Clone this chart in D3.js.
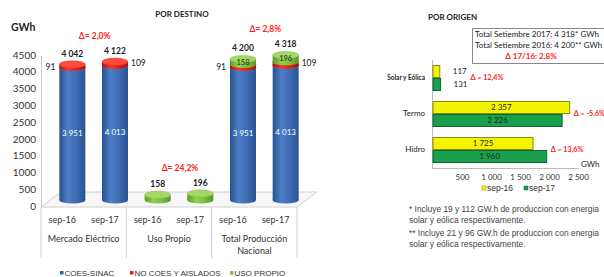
<!DOCTYPE html>
<html>
<head>
<meta charset="utf-8">
<script src="https://cdn.jsdelivr.net/npm/d3@7"></script>
<style>
  body { margin: 0; background: #fff; }
  svg { display: block; }
</style>
</head>
<body>
<svg id="chart" width="604" height="277"></svg>
<script>
// ---- data: POR DESTINO ----
const destinos = ["Mercado Eléctrico", "Uso Propio", "Total Producción Nacional"];
const periodos = ["sep-16", "sep-17"];
const coesSinac = [[3951, 4013], [0, 0], [3951, 4013]];
const noCoes = [[91, 109], [0, 0], [91, 109]];
const usoPropio = [[0, 0], [158, 196], [158, 196]];
const deltasDestino = ["Δ= 2,0%", "Δ= 24,2%", "Δ= 2,8%"];
const yTicks = [0, 500, 1000, 1500, 2000, 2500, 3000, 3500, 4000, 4500];

// ---- data: POR ORIGEN ----
const origenes = ["Solar y Eólica", "Termo", "Hidro"];
const origenSep16 = [117, 2357, 1725];
const origenSep17 = [131, 2226, 1960];
const deltasOrigen = ["Δ = 12,4%", "Δ = -5,6%", "Δ = 13,6%"];
const xTicksOrigen = [500, 1000, 1500, 2000, 2500];

const svg = d3.select("#chart");
const font = "Lato, 'Open Sans', sans-serif";
const arial = "'Liberation Sans', Arial, sans-serif";
const fmt = v => d3.format(",")(v).replace(/,/g, " ");

// gradients for the cylinders
const defs = svg.append("defs");
function grad(id, stops) {
  const g = defs.append("linearGradient").attr("id", id)
    .attr("x1", 0).attr("x2", 1).attr("y1", 0).attr("y2", 0);
  stops.forEach((c, i) => g.append("stop")
    .attr("offset", i / (stops.length - 1)).attr("stop-color", c));
}
grad("gBlue", ["#2a5290", "#4c7fc6", "#3d6cb3", "#2a5290"]);
grad("gRed", ["#b3120e", "#f03a30", "#dc2018", "#a8100c"]);
grad("gGreen", ["#5a9a28", "#93d052", "#7bbd3c", "#57962a"]);

// ================= LEFT: POR DESTINO =================
const y = d3.scaleLinear().domain([0, 4500]).range([206, 55]);
const depth = 6;                        // 3D shift of bars above the floor line
const yb = v => y(v) - depth;
const x0 = d3.scaleBand().domain(destinos).range([41, 297]);
const x1 = d3.scalePoint().domain(periodos).range([0, x0.bandwidth()]).padding(0.5);
const barShift = 10, rx = 13, ry = 3.6;

svg.append("text").attr("x", 182).attr("y", 17).attr("text-anchor", "middle")
  .attr("font-family", font).attr("font-weight", "bold").attr("font-size", 8)
  .attr("fill", "#222").text("POR  DESTINO");
svg.append("text").attr("x", 11).attr("y", 31)
  .attr("font-family", font).attr("font-weight", "bold").attr("font-size", 10.5)
  .attr("fill", "#222").text("GWh");

// floor
svg.append("polygon")
  .attr("points", [[41, 207], [297, 207], [317, 192], [61, 192]].join(" "))
  .attr("fill", "#f7f7f7").attr("stroke", "#cfcfcf").attr("stroke-width", 1);

// y axis
const yAxis = svg.append("g").attr("transform", "translate(41,0)")
  .call(d3.axisLeft(y).tickValues(yTicks).tickFormat(d3.format("d")).tickSize(0).tickPadding(5));
yAxis.select(".domain").attr("stroke", "#c8c8c8");
yAxis.selectAll("text").attr("font-family", font).attr("font-size", 10).attr("fill", "#333");

// category separators and labels
const seps = x0.domain().map(d => x0(d)).concat([x0.range()[1]]);
svg.selectAll(".sep").data(seps).enter().append("line")
  .attr("x1", d => d).attr("x2", d => d).attr("y1", 207).attr("y2", 258)
  .attr("stroke", "#cfcfcf");

destinos.forEach((cat, i) => {
  const g = svg.append("g");
  periodos.forEach(p => {
    g.append("text").attr("x", x0(cat) + x1(p)).attr("y", 223)
      .attr("text-anchor", "middle").attr("font-family", font).attr("font-size", 9)
      .attr("fill", "#333").text(p);
  });
  const cx = x0(cat) + x0.bandwidth() / 2;
  const lines = cat === "Total Producción Nacional" ? ["Total Producción", "Nacional"] : [cat];
  lines.forEach((t, k) => g.append("text").attr("x", cx).attr("y", 242 + k * 12)
    .attr("text-anchor", "middle").attr("font-family", font).attr("font-size", 9)
    .attr("fill", "#333").text(t));
});

// cylinders
const series = [
  { vals: coesSinac, fill: "url(#gBlue)", top: "#5d8fd6" },
  { vals: noCoes, fill: "url(#gRed)", top: "#ff4a3c" },
  { vals: usoPropio, fill: "url(#gGreen)", top: "#a2d866" }
];
destinos.forEach((cat, i) => {
  periodos.forEach((p, j) => {
    const cx = x0(cat) + x1(p) + barShift;
    let base = 0;
    const g = svg.append("g");
    series.forEach(s => {
      const v = s.vals[i][j];
      if (!v) return;
      const top = base + v;
      g.append("rect").attr("x", cx - rx).attr("width", rx * 2)
        .attr("y", yb(top)).attr("height", yb(base) - yb(top)).attr("fill", s.fill);
      g.append("ellipse").attr("cx", cx).attr("cy", yb(base)).attr("rx", rx).attr("ry", ry)
        .attr("fill", s.fill);
      g.append("ellipse").attr("cx", cx).attr("cy", yb(top)).attr("rx", rx).attr("ry", ry)
        .attr("fill", s.top).attr("stroke", d3.color(s.top).darker(0.4)).attr("stroke-width", 0.5);
      base = top;
    });
  });
});

// data labels
function label(xp, yp, t, opts = {}) {
  svg.append("text").attr("x", xp).attr("y", yp)
    .attr("text-anchor", opts.anchor || "middle").attr("dominant-baseline", "middle")
    .attr("font-family", opts.family || font).attr("font-size", opts.size || 8.5)
    .attr("font-weight", opts.bold ? "bold" : "normal")
    .attr("fill", opts.fill || "#222").text(t);
}
destinos.forEach((cat, i) => {
  let maxTop = 0;
  periodos.forEach((p, j) => {
    const cx = x0(cat) + x1(p) + barShift;
    const c = coesSinac[i][j], n = noCoes[i][j], u = usoPropio[i][j];
    const total = c + n + u;
    maxTop = Math.max(maxTop, total);
    if (c) label(cx, yb(c / 2), fmt(c), { fill: "#fff", size: 8 });
    if (n) label(j === 0 ? cx - rx - 4 : cx + rx + 3, yb(c + n / 2) + (j === 0 ? 2 : 0), fmt(n),
      { anchor: j === 0 ? "end" : "start", size: 8.5 });
    if (u && c) label(cx, yb(c + n + u / 2) + 1, fmt(u), { size: 7.5 });
    label(cx, yb(total) - 10, fmt(total), { bold: true, size: 8.5 });
  });
  label(x0(cat) + x0.bandwidth() / 2 + 11, yb(maxTop) - 25, deltasDestino[i],
    { fill: "#ff1a1a", bold: true, size: 8.5 });
});

// legend
const legend = [["COES-SINAC", "#2f5fa8"], ["NO COES Y AISLADOS", "#ee1c14"], ["USO PROPIO", "#7cc03c"]];
const legX = [60, 130, 230];
legend.forEach((d, i) => {
  svg.append("rect").attr("x", legX[i]).attr("y", 271).attr("width", 3.5).attr("height", 3.5).attr("fill", d[1]);
  svg.append("text").attr("x", legX[i] + 4.5).attr("y", 276)
    .attr("font-family", arial).attr("font-size", 8).attr("fill", "#333").text(d[0]);
});

// ================= RIGHT: POR ORIGEN =================
const xh = d3.scaleLinear().domain([0, 2500]).range([433, 578]);
const yh = d3.scaleBand().domain(origenes).range([60, 168]);
const yhInner = d3.scaleBand().domain(periodos).range([0, 26]);
const barOff = (yh.bandwidth() - 26) / 2;

svg.append("text").attr("x", 428).attr("y", 20)
  .attr("font-family", font).attr("font-weight", "bold").attr("font-size", 8)
  .attr("fill", "#222").text("POR  ORIGEN");

// totals box
svg.append("rect").attr("x", 472.5).attr("y", 28.5).attr("width", 140).attr("height", 35)
  .attr("fill", "#fff").attr("stroke", "#888");
label(475, 35, "Total Setiembre 2017: 4 318*   GWh", { anchor: "start", size: 8 });
label(475, 46, "Total Setiembre 2016: 4 200**  GWh", { anchor: "start", size: 8 });
label(531, 57, "Δ 17/16:  2,8%", { fill: "#ff1a1a", bold: true, size: 8 });

// axes
svg.append("line").attr("x1", 432.5).attr("x2", 432.5).attr("y1", 60).attr("y2", 168)
  .attr("stroke", "#bbb");
svg.append("line").attr("x1", 432).attr("x2", 579).attr("y1", 168.5).attr("y2", 168.5)
  .attr("stroke", "#bbb");
const xAxis = svg.append("g").attr("transform", "translate(0,172)")
  .call(d3.axisBottom(xh).tickValues(xTicksOrigen).tickFormat(fmt).tickSize(0).tickPadding(2));
xAxis.select(".domain").remove();
xAxis.selectAll("text").attr("font-family", font).attr("font-size", 8).attr("fill", "#333");
label(581, 165, "GWh", { anchor: "start", size: 8 });

origenes.forEach((o, i) => {
  label(425, yh(o) + yh.bandwidth() / 2, o,
    { anchor: "end", size: o === "Solar y Eólica" ? 6.5 : 8, bold: o === "Solar y Eólica" });
  const vals = [origenSep16[i], origenSep17[i]];
  vals.forEach((v, j) => {
    const yy = yh(o) + barOff + yhInner(periodos[j]);
    svg.append("rect").attr("x", xh(0)).attr("y", yy + 0.5)
      .attr("width", xh(v) - xh(0)).attr("height", yhInner.bandwidth() - 1)
      .attr("fill", j === 0 ? "#f4f400" : "#19a04c")
      .attr("stroke", j === 0 ? "#8c8c10" : "#0e6630").attr("stroke-width", 1);
    const cy = yy + yhInner.bandwidth() / 2;
    if (v > 500) label((xh(0) + xh(v)) / 2, cy, fmt(v), { size: 8 });
    else label(xh(v) + 13, cy, fmt(v), { anchor: "start", size: 8 });
  });
  const mx = d3.max(vals);
  const dx = mx > 500 ? xh(mx) + 4 : xh(mx) + 30;
  label(dx, yh(o) + yh.bandwidth() / 2, deltasOrigen[i],
    { anchor: "start", fill: "#ff1a1a", bold: true, size: 7.2 });
});

// legend right
[["sep-16", "#f4f400", "#8c8c10", 482], ["sep-17", "#19a04c", "#0e6630", 524]].forEach(d => {
  svg.append("rect").attr("x", d[3]).attr("y", 186).attr("width", 4).attr("height", 4)
    .attr("fill", d[1]).attr("stroke", d[2]).attr("stroke-width", 0.5);
  svg.append("text").attr("x", d[3] + 5).attr("y", 191)
    .attr("font-family", arial).attr("font-size", 8.5).attr("fill", "#333").text(d[0]);
});

// footnotes
const notas = [
  "* Incluye 19 y 112 GW.h de produccion con energia",
  "solar y eólica respectivamente.",
  "** Incluye 21 y 96 GW.h de produccion con energia",
  "solar y eólica respectivamente."
];
const notaY = [212, 223, 236, 247];
notas.forEach((t, i) => {
  const tx = svg.append("text").attr("x", 409).attr("y", notaY[i])
    .attr("font-family", arial).attr("font-size", 8.5)
    .attr("fill", "#444").text(t);
  if (i % 2 === 0) tx.attr("textLength", 190).attr("lengthAdjust", "spacingAndGlyphs");
});
</script>
</body>
</html>
